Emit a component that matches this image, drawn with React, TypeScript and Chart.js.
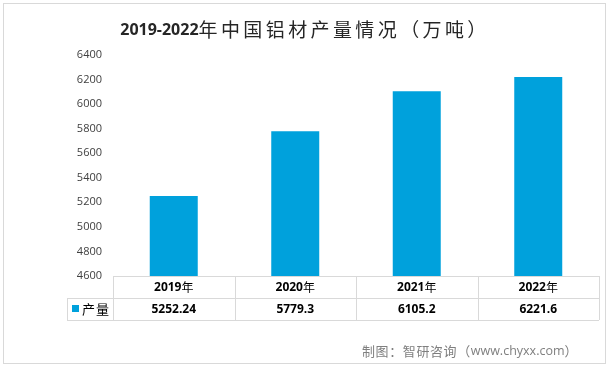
import React, { useEffect, useRef } from "react";
import { Chart, registerables } from "chart.js";

Chart.register(...registerables);

const categories = ["2019年", "2020年", "2021年", "2022年"];
const production = [5252.24, 5779.3, 6105.2, 6221.6];
const valueLabels = ["5252.24", "5779.3", "6105.2", "6221.6"];
const seriesName = "产量";
const titleText = "2019-2022年中国铝材产量情况（万吨）";
const footerText = "制图：智研咨询（www.chyxx.com）";
const yMin = 4600;
const yMax = 6400;
const yStep = 200;

const BAR = "#00A1DC";
const LINE = "#D9D9D9";
const CJK = "'Noto Sans CJK SC'";
const LAT = "'Open Sans'";

function isCJK(ch: string) {
  return /[\u3000-\u9fff\uff00-\uffef]/.test(ch);
}

function splitRuns(text: string) {
  const runs: { t: string; cjk: boolean }[] = [];
  for (const ch of text) {
    const c = isCJK(ch);
    if (runs.length && runs[runs.length - 1].cjk === c) runs[runs.length - 1].t += ch;
    else runs.push({ t: ch, cjk: c });
  }
  return runs;
}

function drawMixed(
  ctx: CanvasRenderingContext2D,
  text: string,
  x: number,
  y: number,
  align: "left" | "center",
  latFont: string,
  cjkFont: string,
  cjkSpacing: number,
  color: string
) {
  const runs = splitRuns(text);
  ctx.save();
  ctx.fillStyle = color;
  ctx.textBaseline = "middle";
  ctx.textAlign = "left";
  const widths = runs.map((r) => {
    ctx.font = r.cjk ? cjkFont : latFont;
    (ctx as any).letterSpacing = r.cjk ? cjkSpacing + "px" : "0px";
    return ctx.measureText(r.t).width;
  });
  const total = widths.reduce((a, b) => a + b, 0);
  let cx = align === "center" ? x - total / 2 : x;
  runs.forEach((r, i) => {
    ctx.font = r.cjk ? cjkFont : latFont;
    (ctx as any).letterSpacing = r.cjk ? cjkSpacing + "px" : "0px";
    ctx.fillText(r.t, cx, y);
    cx += widths[i];
  });
  ctx.restore();
}

const decorPlugin = {
  id: "decor",
  afterDraw(chart: any) {
    const ctx: CanvasRenderingContext2D = chart.ctx;
    const area = chart.chartArea;
    const xs = chart.scales.x;
    const n = categories.length;
    const colW = (area.right - area.left) / n;
    const rowTop = area.bottom;
    const rowMid = rowTop + 22;
    const rowBot = rowMid + 22;
    const legendLeft = 67;

    // outer border
    ctx.save();
    ctx.strokeStyle = LINE;
    ctx.lineWidth = 1;
    ctx.strokeRect(3.5, 3.5, 602, 360);

    // table lines
    ctx.beginPath();
    ctx.moveTo(area.left, rowTop + 0.5);
    ctx.lineTo(area.right, rowTop + 0.5);
    ctx.moveTo(legendLeft, rowMid + 0.5);
    ctx.lineTo(area.right, rowMid + 0.5);
    ctx.moveTo(legendLeft, rowBot + 0.5);
    ctx.lineTo(area.right, rowBot + 0.5);
    for (let i = 0; i <= n; i++) {
      const lx = Math.round(area.left + i * colW) + 0.5;
      ctx.moveTo(lx, rowTop);
      ctx.lineTo(lx, rowBot);
    }
    ctx.moveTo(legendLeft + 0.5, rowMid);
    ctx.lineTo(legendLeft + 0.5, rowBot);
    ctx.stroke();
    ctx.restore();

    // category + value labels
    categories.forEach((c, i) => {
      const cx = xs.getPixelForValue(i);
      drawMixed(ctx, c, cx, rowTop + 11.5, "center", `bold 12px ${LAT}`, `12px ${CJK}`, 0, "#000000");
      drawMixed(ctx, valueLabels[i], cx, rowMid + 11.5, "center", `bold 12px ${LAT}`, `12px ${CJK}`, 0, "#000000");
    });

    // legend key
    ctx.save();
    ctx.fillStyle = BAR;
    ctx.fillRect(72, rowMid + 7, 7, 7);
    ctx.restore();
    drawMixed(ctx, seriesName, 82, rowMid + 11, "left", `13px ${LAT}`, `13px ${CJK}`, 1, "#000000");

    // title
    drawMixed(ctx, titleText, 305, 30, "center", `bold 16px ${LAT}`, `19px ${CJK}`, 3.4, "#262626");

    // footer
    drawMixed(ctx, footerText, 362, 351, "left", `12.5px ${LAT}`, `13px ${CJK}`, 0.6, "#7F7F7F");
  },
};

export default function App() {
  const ref = useRef<HTMLCanvasElement | null>(null);
  useEffect(() => {
    document.body.style.margin = "0";
    const canvas = ref.current!;
    const chart = new Chart(canvas, {
      type: "bar",
      data: {
        labels: categories,
        datasets: [
          {
            label: seriesName,
            data: production,
            backgroundColor: BAR,
            borderWidth: 0,
            barPercentage: 0.395,
            categoryPercentage: 1,
          },
        ],
      },
      options: {
        animation: false,
        responsive: false,
        devicePixelRatio: 1,
        layout: { padding: { left: 0, right: 10, top: 55, bottom: 91 } },
        plugins: {
          legend: { display: false },
          title: { display: false },
          tooltip: { enabled: false },
        },
        scales: {
          x: { display: false },
          y: {
            min: yMin,
            max: yMax,
            border: { display: false },
            grid: { display: false, drawTicks: false },
            ticks: {
              stepSize: yStep,
              padding: 11,
              color: "#404040",
              font: { family: "Open Sans", size: 11 },
              callback: (v: any) => String(v),
            },
            afterFit(scale: any) {
              scale.width = 113;
            },
          },
        },
      },
      plugins: [decorPlugin],
    });
    return () => chart.destroy();
  }, []);
  return (
    <div style={{ position: "absolute", left: 0, top: 0, width: 609, height: 367, background: "#fff" }}>
      <canvas ref={ref} width={609} height={367} style={{ display: "block" }} />
    </div>
  );
}
